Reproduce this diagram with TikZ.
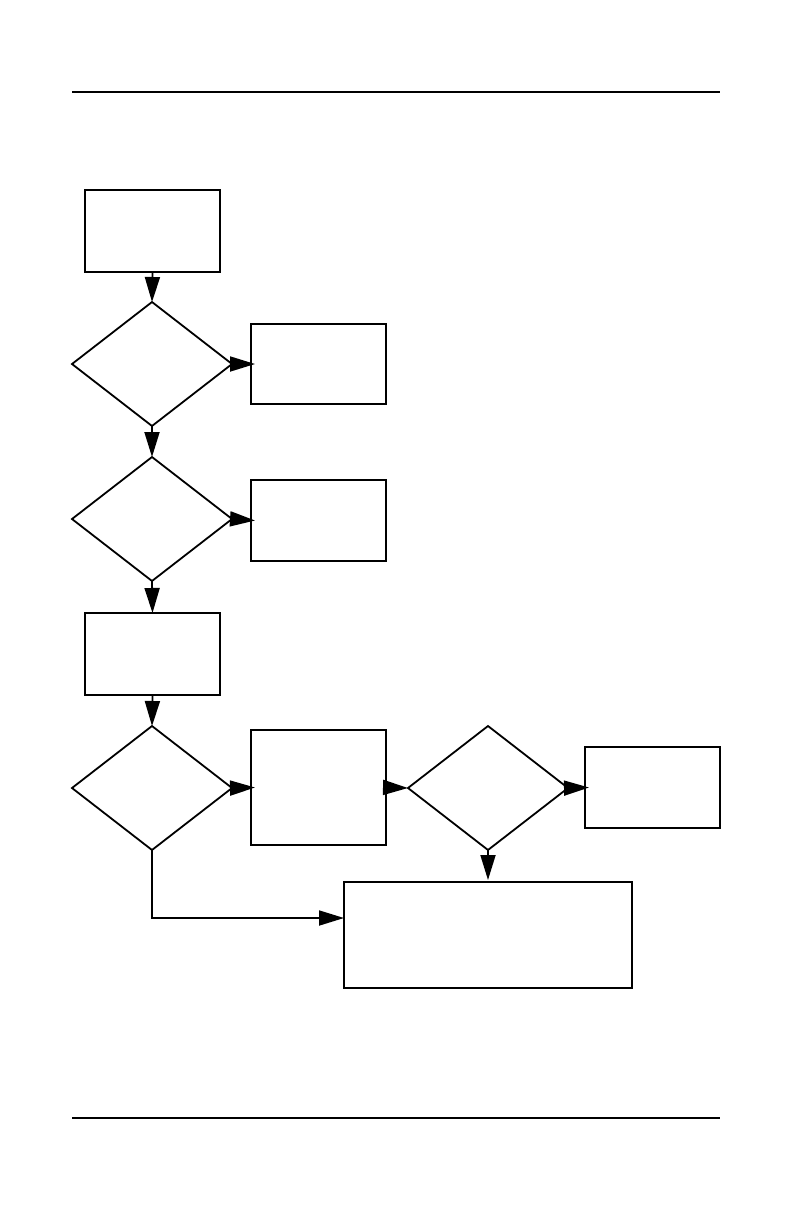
\documentclass[tikz,border=0pt]{standalone}
\usetikzlibrary{shapes.geometric,arrows.meta}
\begin{document}
\begin{tikzpicture}[x=1pt,y=-1pt,
  box/.style={draw,line width=1.8pt,rectangle,inner sep=0pt,outer sep=0pt},
  dec/.style={draw,line width=1.8pt,diamond,inner sep=0pt,outer sep=0pt,minimum width=160pt,minimum height=124pt},
  conn/.style={line width=1.8pt,-{Triangle[length=25pt,width=15pt]}},
  rule/.style={line width=1.3pt}]
\useasboundingbox (0,0) rectangle (792,1224);
\coordinate (r1a) at (72,92); \coordinate (r1b) at (720,92);
\coordinate (r2a) at (72,1118); \coordinate (r2b) at (720,1118);
\draw[rule] (r1a) -- (r1b);
\draw[rule] (r2a) -- (r2b);
\node[box,minimum width=135pt,minimum height=82pt] (b1) at (152.5,231) {};
\node[dec] (d1) at (152,364) {};
\node[box,minimum width=135pt,minimum height=80pt] (b2) at (318.5,364) {};
\node[dec] (d2) at (152,519) {};
\node[box,minimum width=135pt,minimum height=81pt] (b3) at (318.5,520.5) {};
\node[box,minimum width=135pt,minimum height=82pt] (b4) at (152.5,654) {};
\node[dec] (d3) at (152,788) {};
\node[box,minimum width=135pt,minimum height=115pt] (b5) at (318.5,787.5) {};
\node[dec] (d4) at (488,788) {};
\node[box,minimum width=135pt,minimum height=81pt] (b6) at (652.5,787.5) {};
\node[box,minimum width=288pt,minimum height=106pt] (b7) at (488,935) {};
\coordinate (b7in) at ([yshift=17pt]b7.west);
\draw[conn] (b1.south) -- (d1.north);
\draw[conn] (d1.east) -- ([xshift=4pt]b2.west);
\draw[conn] (d1.south) -- (d2.north);
\draw[conn] (d2.east) -- ([xshift=4pt]b3.west);
\draw[conn] (d2.south) -- (b4.north);
\draw[conn] (b4.south) -- (d3.north);
\draw[conn] (d3.east) -- ([xshift=4pt]b5.west);
\draw[conn] (b5.east) -- (d4.west);
\draw[conn] (d4.east) -- ([xshift=4pt]b6.west);
\draw[conn] (d4.south) -- ([yshift=2pt]b7.north);
\draw[conn] (d3.south) |- (b7in);
\end{tikzpicture}
\end{document}
